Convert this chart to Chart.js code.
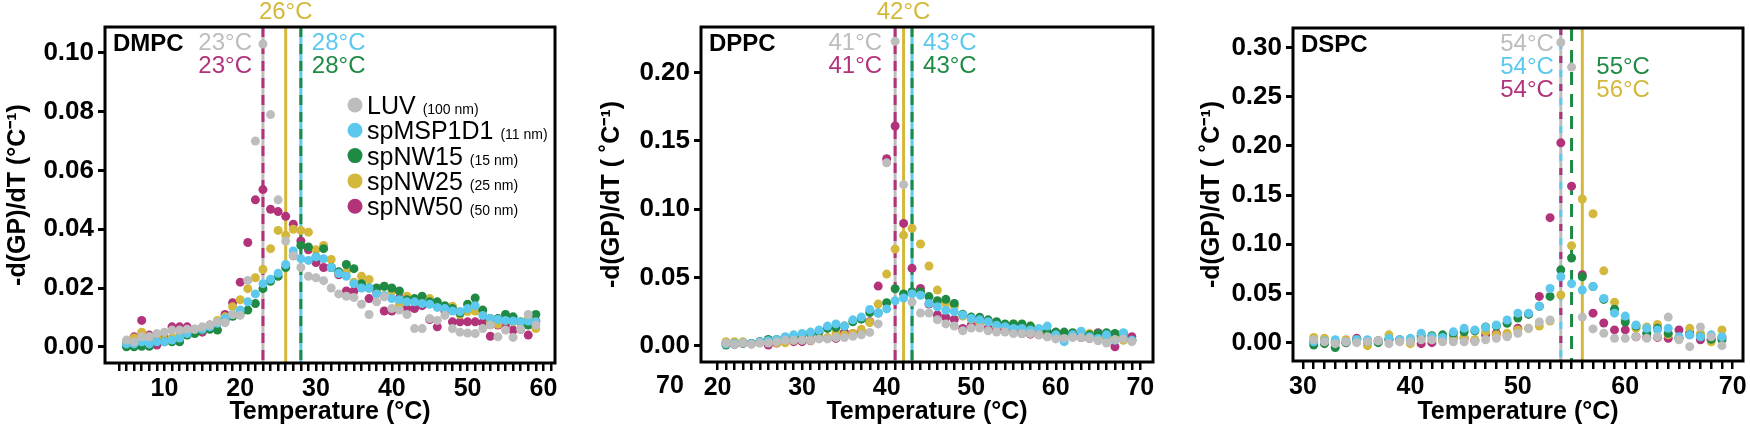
<!DOCTYPE html>
<html>
<head>
<meta charset="utf-8">
<title>-d(GP)/dT vs Temperature</title>
<script src="https://cdn.jsdelivr.net/npm/chart.js@4.4.1/dist/chart.umd.min.js"></script>
<style>
  html, body { margin: 0; padding: 0; background: #fff; }
  #wrap { position: relative; width: 1750px; height: 428px; overflow: hidden; }
  .panel { position: absolute; top: 0; height: 428px; }
  canvas { display: block; }
</style>
</head>
<body>
<div id="wrap">
  <div class="panel" style="left:0;width:583px"><canvas id="cDMPC" width="583" height="428"></canvas></div>
  <div class="panel" style="left:583px;width:584px"><canvas id="cDPPC" width="584" height="428"></canvas></div>
  <div class="panel" style="left:1167px;width:583px"><canvas id="cDSPC" width="583" height="428"></canvas></div>
</div>
<script>
/* 1. Dados */
const seriesNames = ["LUV", "spMSP1D1", "spNW15", "spNW25", "spNW50"];
const seriesSizes = ["(100 nm)", "(11 nm)", "(15 nm)", "(25 nm)", "(50 nm)"];
const seriesColors = ["#bdbdbd", "#5cc8ee", "#1f8a44", "#d4b83b", "#b2337a"];

// DMPC
const tempDMPC = [5, 6, 7, 8, 9, 10, 11, 12, 13, 14, 15, 16, 17, 18, 19, 20, 21, 22, 23, 24, 25, 26, 27, 28, 29, 30, 31, 32, 33, 34, 35, 36, 37, 38, 39, 40, 41, 42, 43, 44, 45, 46, 47, 48, 49, 50, 51, 52, 53, 54, 55, 56, 57, 58, 59];
const dmpcLUV = [0.0023, 0.0017, 0.0034, 0.0034, 0.0045, 0.005, 0.0057, 0.0057, 0.006, 0.006, 0.0068, 0.0074, 0.0085, 0.0082, 0.011, 0.0107, 0.0226, 0.070, 0.103, 0.079, 0.050, 0.036, 0.031, 0.027, 0.024, 0.0235, 0.0225, 0.020, 0.018, 0.0172, 0.0168, 0.0145, 0.011, 0.0153, 0.017, 0.013, 0.0125, 0.011, 0.0062, 0.0062, 0.0096, 0.009, 0.0107, 0.0062, 0.005, 0.0047, 0.0045, 0.0062, 0.0074, 0.0034, 0.0057, 0.0032, 0.006, 0.011, 0.0074];
const dmpcMSP = [0.001, 0.001, 0.0017, 0.001, 0.0017, 0.0017, 0.0023, 0.003, 0.0045, 0.006, 0.006, 0.0068, 0.008, 0.0096, 0.011, 0.0125, 0.0153, 0.018, 0.0215, 0.023, 0.025, 0.028, 0.0326, 0.030, 0.0294, 0.0306, 0.030, 0.027, 0.025, 0.024, 0.0215, 0.020, 0.020, 0.018, 0.0175, 0.0164, 0.016, 0.0153, 0.0153, 0.0147, 0.0145, 0.0134, 0.013, 0.0122, 0.012, 0.013, 0.014, 0.0107, 0.0096, 0.0093, 0.009, 0.0088, 0.0085, 0.0088, 0.0085];
const dmpcNW15 = [0.000, 0.000, 0.0002, 0.0002, 0.0017, 0.0017, 0.0017, 0.0017, 0.004, 0.0045, 0.0057, 0.006, 0.0057, 0.009, 0.0104, 0.0113, 0.0125, 0.0147, 0.0198, 0.0223, 0.024, 0.027, 0.031, 0.0345, 0.034, 0.0306, 0.0334, 0.027, 0.0255, 0.028, 0.0266, 0.0215, 0.020, 0.020, 0.0206, 0.020, 0.019, 0.016, 0.0164, 0.0172, 0.0153, 0.0153, 0.014, 0.013, 0.0115, 0.0145, 0.0166, 0.0125, 0.0096, 0.0096, 0.011, 0.0102, 0.0085, 0.0074, 0.011];
const dmpcNW25 = [0.0017, 0.003, 0.005, 0.0034, 0.003, 0.0023, 0.003, 0.004, 0.0045, 0.005, 0.0057, 0.0068, 0.009, 0.0102, 0.0136, 0.016, 0.0198, 0.0235, 0.0263, 0.0334, 0.0396, 0.038, 0.040, 0.0396, 0.039, 0.033, 0.0345, 0.0297, 0.025, 0.0255, 0.022, 0.024, 0.0229, 0.0193, 0.0206, 0.019, 0.0145, 0.0172, 0.0156, 0.0153, 0.0164, 0.0145, 0.013, 0.0138, 0.011, 0.012, 0.0122, 0.0113, 0.0085, 0.0077, 0.009, 0.0085, 0.0082, 0.0096, 0.0062];
const dmpcNW50 = [0.0014, 0.0034, 0.009, 0.004, 0.0006, 0.003, 0.0068, 0.0068, 0.0068, 0.006, 0.005, 0.0074, 0.0085, 0.011, 0.015, 0.022, 0.0355, 0.050, 0.0535, 0.0468, 0.046, 0.0444, 0.0417, 0.036, 0.033, 0.0287, 0.027, 0.027, 0.0245, 0.019, 0.019, 0.0207, 0.0164, 0.0185, 0.0122, 0.0122, 0.0166, 0.013, 0.013, 0.014, 0.0093, 0.0068, 0.0122, 0.0085, 0.0085, 0.0085, 0.0085, 0.0082, 0.0036, 0.0074, 0.0074, 0.0057, 0.006, 0.004, 0.0087];
const tmDMPC = [23, 28, 28, 26, 23];
const xLabelsDMPC = [10, 20, 30, 40, 50, 60];
const yTicksDMPC = [0, 0.02, 0.04, 0.06, 0.08, 0.10];

// DPPC
const tempDPPC = [21, 22, 23, 24, 25, 26, 27, 28, 29, 30, 31, 32, 33, 34, 35, 36, 37, 38, 39, 40, 41, 42, 43, 44, 45, 46, 47, 48, 49, 50, 51, 52, 53, 54, 55, 56, 57, 58, 59, 60, 61, 62, 63, 64, 65, 66, 67, 68, 69];
const dppcLUV = [0.002, 0.001, 0.002, 0.001, 0.002, 0.002, 0.003, 0.004, 0.004, 0.004, 0.004, 0.005, 0.005, 0.006, 0.006, 0.007, 0.008, 0.0098, 0.016, 0.134, 0.223, 0.118, 0.032, 0.024, 0.024, 0.019, 0.016, 0.0145, 0.011, 0.013, 0.013, 0.011, 0.010, 0.010, 0.009, 0.009, 0.009, 0.008, 0.0066, 0.005, 0.0054, 0.006, 0.006, 0.0054, 0.0037, 0.002, 0.0045, 0.005, 0.003];
const dppcMSP = [0.0012, 0.0017, 0.0022, 0.0017, 0.003, 0.0037, 0.0046, 0.0066, 0.008, 0.009, 0.010, 0.0115, 0.0144, 0.016, 0.0144, 0.019, 0.021, 0.0266, 0.024, 0.027, 0.033, 0.035, 0.038, 0.037, 0.031, 0.0286, 0.026, 0.025, 0.0225, 0.020, 0.019, 0.0176, 0.015, 0.014, 0.0127, 0.0127, 0.0115, 0.0127, 0.0144, 0.008, 0.003, 0.008, 0.0107, 0.0066, 0.0054, 0.008, 0.004, 0.0095, 0.004];
const dppcNW15 = [0.0005, 0.0012, 0.0017, 0.0017, 0.003, 0.0046, 0.0046, 0.006, 0.0066, 0.008, 0.009, 0.010, 0.0127, 0.0134, 0.0144, 0.0176, 0.0195, 0.0244, 0.024, 0.0315, 0.0418, 0.038, 0.0396, 0.0396, 0.036, 0.033, 0.034, 0.031, 0.023, 0.021, 0.0208, 0.019, 0.0176, 0.016, 0.016, 0.016, 0.0144, 0.012, 0.010, 0.010, 0.010, 0.0095, 0.0095, 0.008, 0.009, 0.0095, 0.009, 0.009, 0.004];
const dppcNW25 = [0.003, 0.003, 0.003, 0.0017, 0.0022, 0.003, 0.0022, 0.0022, 0.004, 0.0046, 0.004, 0.0054, 0.006, 0.009, 0.008, 0.009, 0.012, 0.017, 0.0305, 0.0525, 0.0708, 0.081, 0.086, 0.0745, 0.0584, 0.0408, 0.031, 0.029, 0.0217, 0.0195, 0.0168, 0.0176, 0.0144, 0.014, 0.016, 0.014, 0.0144, 0.009, 0.0066, 0.008, 0.0066, 0.007, 0.0095, 0.009, 0.005, 0.006, 0.0066, 0.004, 0.004];
const dppcNW50 = [0.002, 0.001, 0.0017, 0.0017, 0.003, 0.0005, 0.002, 0.0046, 0.003, 0.003, 0.0037, 0.0054, 0.0054, 0.0054, 0.010, 0.009, 0.010, 0.0176, 0.0437, 0.137, 0.161, 0.0896, 0.0567, 0.042, 0.0305, 0.0225, 0.0208, 0.0193, 0.0127, 0.015, 0.0168, 0.0127, 0.0115, 0.0115, 0.011, 0.009, 0.0085, 0.008, 0.0095, 0.0098, 0.0073, 0.008, 0.006, 0.0054, 0.0095, 0.0073, -0.0007, 0.0054, 0.0066];
const tmDPPC = [41, 43, 43, 42, 41];
const xLabelsDPPC = [20, 30, 40, 50, 60, 70];
const yTicksDPPC = [0, 0.05, 0.10, 0.15, 0.20];

// DSPC
const tempDSPC = [31, 32, 33, 34, 35, 36, 37, 38, 39, 40, 41, 42, 43, 44, 45, 46, 47, 48, 49, 50, 51, 52, 53, 54, 55, 56, 57, 58, 59, 60, 61, 62, 63, 64, 65, 66, 67, 68, 69];
const dspcLUV = [0.003, 0.001, -0.001, 0.001, 0.000, 0.001, 0.002, -0.001, 0.001, 0.001, 0.003, 0.003, 0.001, 0.001, 0.001, 0.001, 0.003, 0.0044, 0.006, 0.0095, 0.0146, 0.021, 0.023, 0.305, 0.280, 0.026, 0.014, 0.0095, 0.0044, 0.0044, 0.006, 0.0044, 0.006, 0.026, 0.003, -0.004, 0.016, 0.006, -0.003];
const dspcMSP = [0.001, 0.002, 0.003, 0.001, 0.003, 0.003, 0.002, 0.0044, 0.003, 0.0044, 0.0095, 0.006, 0.0054, 0.011, 0.0146, 0.013, 0.0156, 0.018, 0.023, 0.030, 0.030, 0.037, 0.055, 0.067, 0.060, 0.0535, 0.057, 0.045, 0.030, 0.027, 0.018, 0.0146, 0.013, 0.0146, 0.006, 0.008, 0.006, 0.008, 0.006];
const dspcNW15 = [-0.0024, -0.001, -0.005, 0.000, 0.003, 0.001, 0.000, 0.0034, 0.003, 0.003, 0.007, 0.007, 0.008, 0.0095, 0.011, 0.012, 0.016, 0.017, 0.0197, 0.025, 0.029, 0.037, 0.047, 0.074, 0.086, 0.067, 0.057, 0.044, 0.034, 0.021, 0.017, 0.0095, 0.0146, 0.0095, 0.0044, 0.008, 0.006, 0.0034, 0.003];
const dspcNW25 = [0.0054, 0.0044, 0.001, 0.003, 0.003, -0.003, 0.002, 0.008, 0.002, -0.001, 0.0044, 0.003, 0.002, 0.0044, 0.0054, 0.003, 0.011, 0.008, 0.0095, 0.013, 0.0146, 0.017, 0.022, 0.0485, 0.0986, 0.146, 0.131, 0.073, 0.041, 0.024, 0.0146, 0.016, 0.0186, 0.008, 0.0044, 0.0146, 0.0095, 0.001, 0.013];
const dspcNW50 = [0.001, 0.003, 0.000, 0.000, 0.0044, 0.001, 0.002, 0.003, 0.002, 0.002, -0.001, 0.000, 0.003, 0.005, 0.0044, 0.002, 0.008, 0.0095, 0.007, 0.0146, 0.029, 0.047, 0.127, 0.203, 0.159, 0.069, 0.030, 0.020, 0.013, 0.013, 0.006, 0.0054, 0.0054, 0.0044, 0.013, 0.010, 0.003, 0.003, 0.0054];
const tmDSPC = [54, 54, 55, 56, 54];
const xLabelsDSPC = [30, 40, 50, 60, 70];
const yTicksDSPC = [0, 0.05, 0.10, 0.15, 0.20, 0.25, 0.30];

/* 2. Configuração dos painéis (eixos, linhas Tm, rótulos) */
const FONT = "'Liberation Sans', Arial, Helvetica, sans-serif";
const LUV = 0, MSP = 1, NW15 = 2, NW25 = 3, NW50 = 4;

const panels = [
  {
    canvas: "cDMPC", name: "DMPC", temps: tempDMPC,
    values: [dmpcLUV, dmpcMSP, dmpcNW15, dmpcNW25, dmpcNW50], tm: tmDMPC,
    xMin: 2.16, xMax: 61.53, xMinor: [4, 61], xLabels: xLabelsDMPC,
    yMin: -0.0055, yMax: 0.1088, yTicks: yTicksDMPC,
    yTitle: "-d(GP)/dT (\u00B0C\u207B\u00B9)", titlePad: 3,
    yWidth: 105, xHeight: 65, pad: { left: 0, right: 28, top: 27, bottom: 0 },
    legend: true,
    lines: [
      { s: LUV }, { s: NW50, dash: [10, 7] },
      { s: NW25 },
      { s: MSP }, { s: NW15, dash: [10, 7] },
    ],
    labels: [
      { s: NW25, side: "top" },
      { s: LUV, side: "left", row: 0, gap: 11 },
      { s: NW50, side: "left", row: 1, gap: 11 },
      { s: MSP, side: "right", row: 0, gap: 11 },
      { s: NW15, side: "right", row: 1, gap: 11 },
    ],
  },
  {
    canvas: "cDPPC", name: "DPPC", temps: tempDPPC,
    values: [dppcLUV, dppcMSP, dppcNW15, dppcNW25, dppcNW50], tm: tmDPPC,
    xMin: 18.04, xMax: 71.5, xMinor: [20, 70], xLabels: xLabelsDPPC,
    yMin: -0.0119, yMax: 0.2335, yTicks: yTicksDPPC,
    yTitle: "-d(GP)/dT ( \u02DAC\u207B\u00B9)", titlePad: 14,
    yWidth: 118, xHeight: 66, pad: { left: 0, right: 14, top: 27, bottom: 0 },
    stray: "70",
    lines: [
      { s: LUV }, { s: NW50, dash: [10, 7] },
      { s: NW25 },
      { s: MSP }, { s: NW15, dash: [10, 7] },
    ],
    labels: [
      { s: NW25, side: "top" },
      { s: LUV, side: "left", row: 0, gap: 13 },
      { s: NW50, side: "left", row: 1, gap: 13 },
      { s: MSP, side: "right", row: 0, gap: 11 },
      { s: NW15, side: "right", row: 1, gap: 11 },
    ],
  },
  {
    canvas: "cDSPC", name: "DSPC", temps: tempDSPC,
    values: [dspcLUV, dspcMSP, dspcNW15, dspcNW25, dspcNW50], tm: tmDSPC,
    xMin: 29.07, xMax: 70.96, xMinor: [30, 70], xLabels: xLabelsDSPC,
    yMin: -0.0186, yMax: 0.3197, yTicks: yTicksDSPC,
    yTitle: "-d(GP)/dT ( \u02DAC\u207B\u00B9)", titlePad: 30,
    yWidth: 126, xHeight: 67, pad: { left: 0, right: 7, top: 28, bottom: 0 },
    lines: [
      { s: LUV }, { s: MSP, dash: [7, 7] }, { s: NW50, dash: [7, 21], off: 0 },
      { s: NW15, dash: [13, 9] },
      { s: NW25 },
    ],
    labels: [
      { s: LUV, side: "left", row: 0, gap: 7 },
      { s: MSP, side: "left", row: 1, gap: 7 },
      { s: NW50, side: "left", row: 2, gap: 7 },
      { s: NW15, side: "right", row: 1, gap: 14, anchor: NW25 },
      { s: NW25, side: "right", row: 2, gap: 14 },
    ],
  },
];

/* 3. Plugin: linhas Tm, rótulos, moldura, legenda */
const decorPlugin = {
  id: "decor",
  beforeDatasetsDraw(chart, args, p) {
    const { ctx, chartArea: a } = chart;
    const x = chart.scales.x;
    ctx.save();
    ctx.beginPath();
    ctx.rect(a.left, a.top, a.right - a.left, a.bottom - a.top);
    ctx.clip();
    ctx.lineWidth = 3;
    p.lines.forEach((l) => {
      const px = x.getPixelForValue(p.tm[l.s]);
      ctx.strokeStyle = seriesColors[l.s];
      ctx.setLineDash(l.dash || []);
      ctx.lineDashOffset = l.off || 0;
      ctx.beginPath();
      ctx.moveTo(px, a.top);
      ctx.lineTo(px, a.bottom);
      ctx.stroke();
    });
    ctx.restore();
  },
  afterDraw(chart, args, p) {
    const { ctx, chartArea: a } = chart;
    const x = chart.scales.x;
    ctx.save();

    // Tm labels
    ctx.font = "24px " + FONT;
    ctx.textBaseline = "middle";
    p.labels.forEach((l) => {
      const anchor = l.anchor !== undefined ? l.anchor : l.s;
      const px = x.getPixelForValue(p.tm[anchor]);
      const txt = p.tm[l.s] + "\u00B0C";
      ctx.fillStyle = seriesColors[l.s];
      if (l.side === "top") {
        ctx.textAlign = "center";
        ctx.fillText(txt, px, a.top - 15);
      } else {
        const y = a.top + 16.5 + l.row * 23;
        ctx.textAlign = l.side === "left" ? "right" : "left";
        ctx.fillText(txt, l.side === "left" ? px - l.gap : px + l.gap, y);
      }
    });

    // lipid name
    ctx.fillStyle = "#000";
    ctx.textAlign = "left";
    ctx.font = "bold 24px " + FONT;
    ctx.fillText(p.name, a.left + 8, a.top + 17);

    // stray tick text
    if (p.stray) {
      ctx.textAlign = "center";
      ctx.font = "bold 25px " + FONT;
      ctx.fillText(p.stray, a.left - 31, a.bottom + 24);
    }

    // legend
    if (p.legend) {
      seriesNames.forEach((n, i) => {
        const cy = a.top + 78 + i * 25.3;
        const lx = a.left + 250;
        ctx.fillStyle = seriesColors[i];
        ctx.beginPath();
        ctx.arc(lx, cy, 7.5, 0, Math.PI * 2);
        ctx.fill();
        ctx.fillStyle = "#000";
        ctx.textAlign = "left";
        ctx.textBaseline = "alphabetic";
        ctx.font = "25px " + FONT;
        ctx.fillText(n, lx + 12, cy + 9);
        const w = ctx.measureText(n).width;
        ctx.font = "14px " + FONT;
        ctx.fillText(seriesSizes[i], lx + 12 + w + 7, cy + 9);
      });
    }

    // frame
    ctx.strokeStyle = "#000";
    ctx.lineWidth = 3;
    ctx.setLineDash([]);
    ctx.strokeRect(a.left, a.top, a.right - a.left, a.bottom - a.top);
    ctx.restore();
  },
};

/* 4. Gráficos */
document.addEventListener("DOMContentLoaded", function () {
  Chart.defaults.font.family = FONT;
  Chart.defaults.color = "#000";

  panels.forEach((p) => {
    const datasets = p.values.map((vals, i) => ({
      label: seriesNames[i],
      data: p.temps.map((t, j) => ({ x: t, y: vals[j] })),
      backgroundColor: seriesColors[i],
      borderColor: seriesColors[i],
      pointRadius: 4.5,
      pointBorderWidth: 0,
      showLine: false,
    }));

    new Chart(document.getElementById(p.canvas).getContext("2d"), {
      type: "scatter",
      data: { datasets: datasets },
      plugins: [decorPlugin],
      options: {
        responsive: false,
        animation: false,
        events: [],
        layout: { padding: p.pad },
        plugins: {
          legend: { display: false },
          tooltip: { enabled: false },
          decor: p,
        },
        scales: {
          x: {
            type: "linear",
            min: p.xMin,
            max: p.xMax,
            afterFit: (s) => { s.height = p.xHeight; },
            afterBuildTicks: (s) => {
              const t = [];
              for (let v = p.xMinor[0]; v <= p.xMinor[1]; v++) t.push({ value: v });
              s.ticks = t;
            },
            grid: { drawOnChartArea: false, drawTicks: true, tickLength: 8, color: "#000", lineWidth: 2.5 },
            border: { display: false },
            ticks: {
              autoSkip: false,
              maxRotation: 0,
              padding: 3,
              font: { size: 25, weight: "bold" },
              callback: (v) => (p.xLabels.includes(v) ? String(v) : ""),
            },
            title: {
              display: true,
              text: "Temperature (\u00B0C)",
              font: { size: 25, weight: "bold" },
              padding: { top: 0, bottom: 1 },
            },
          },
          y: {
            type: "linear",
            min: p.yMin,
            max: p.yMax,
            afterFit: (s) => { s.width = p.yWidth; },
            afterBuildTicks: (s) => { s.ticks = p.yTicks.map((v) => ({ value: v })); },
            grid: { drawOnChartArea: false, drawTicks: true, tickLength: 7, color: "#000", lineWidth: 3 },
            border: { display: false },
            ticks: {
              padding: 4,
              font: { size: 26, weight: "bold" },
              callback: (v) => v.toFixed(2),
            },
            title: {
              display: true,
              text: p.yTitle,
              font: { size: 25, weight: "bold" },
              padding: { top: p.titlePad, bottom: 0 },
            },
          },
        },
      },
    });
  });
});
</script>
</body>
</html>
